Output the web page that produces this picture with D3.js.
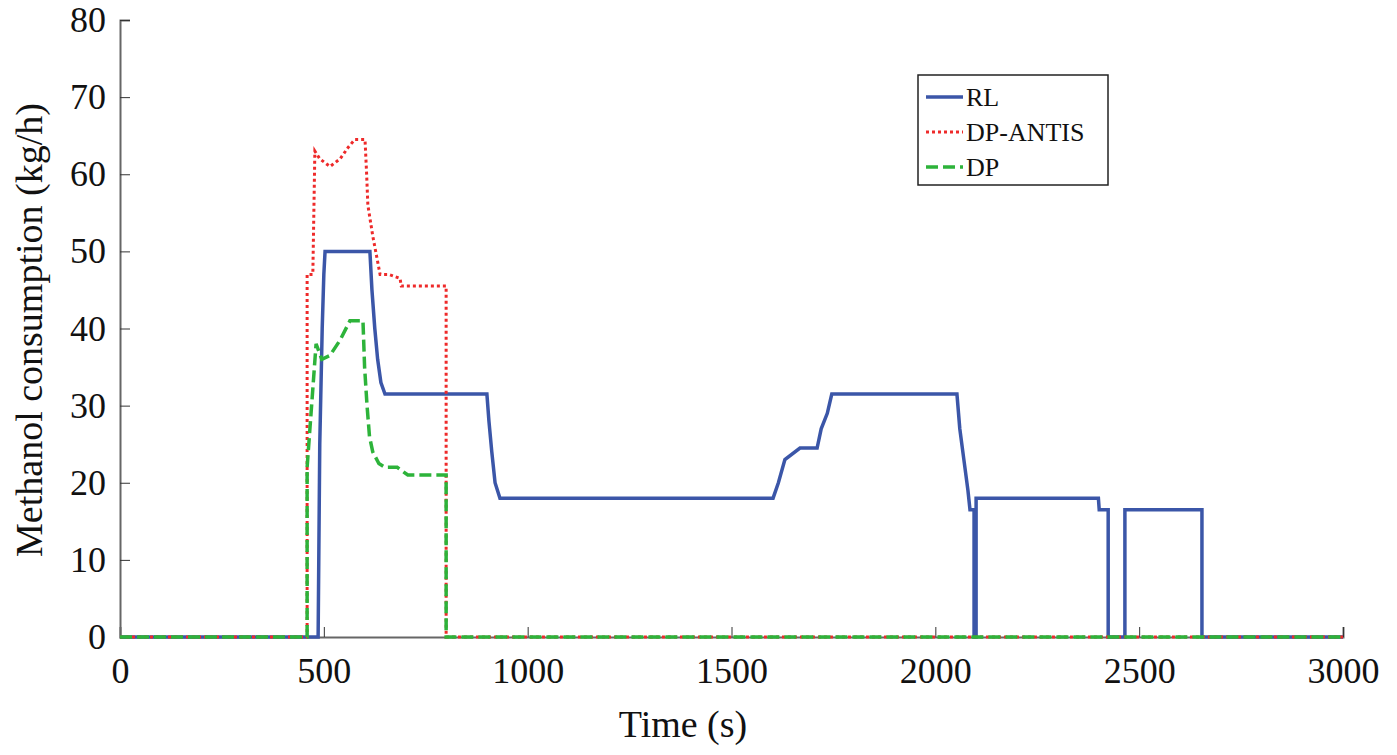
<!DOCTYPE html>
<html><head><meta charset="utf-8">
<script src="https://cdn.jsdelivr.net/npm/d3@7"></script>
<style>body{margin:0;background:#fff}svg,svg text{font-family:"Liberation Serif","DejaVu Serif",serif}</style>
</head><body><svg id="chart" width="1397" height="755"></svg>
<script>
var xTicks=[0,500,1000,1500,2000,2500,3000];
var yTicks=[0,10,20,30,40,50,60,70,80];
var seriesNames=['RL','DP-ANTIS','DP'];
var rlT=[0,486,490,496,500,503,613,618,625,632,640,650,900,905,912,920,932,1602,1615,1631,1668,1710,1720,1735,1746,2053,2060,2070,2080,2085,2095,2095,2100,2100,2400,2402,2424,2424,2465,2465,2654,2654,3000];
var rlV=[0,0,25,40,47,50,50,45,40,36,33,31.5,31.5,28,24,20,18,18,20,23,24.5,24.5,27,29,31.5,31.5,27,23,19,16.5,16.5,0,0,18,18,16.5,16.5,0,0,16.5,16.5,0,0];
var dpaT=[0,459,459,473,478,490,515,540,560,576,601,605,608,620,638,660,687,690,800,800,3000];
var dpaV=[0,0,47,47,63,62,61,62,63.5,64.5,64.5,60,56,52,47,47,46.5,45.5,45.5,0,0];
var dpT=[0,459,459,470,481,488,495,515,540,564,596,600,606,612,620,635,650,680,706,800,800,3000];
var dpV=[0,0,22,30,38,37,36,36.5,38.5,41,41,35,30,26,24,22.5,22,22,21,21,0,0];

var svg=d3.select('#chart');
var x=d3.scaleLinear().domain([0,3000]).range([120,1343]);
var y=d3.scaleLinear().domain([0,80]).range([637,20]);
var serif='"Liberation Serif","DejaVu Serif",serif';

svg.append('g').attr('transform','translate(0,637)')
  .call(d3.axisBottom(x).tickValues(xTicks).tickSize(-10).tickPadding(20).tickFormat(d3.format('d')))
  .call(g=>{g.attr('font-family',serif);g.select('.domain').attr('stroke','#666').attr('stroke-width',2);g.selectAll('line').attr('stroke','#333');g.selectAll('text').attr('font-size',36).attr('fill','#111')});
svg.append('g').attr('transform','translate(120,0)')
  .call(d3.axisLeft(y).tickValues(yTicks).tickSize(-10).tickPadding(14))
  .call(g=>{g.attr('font-family',serif);g.select('.domain').attr('stroke','#666').attr('stroke-width',2);g.selectAll('line').attr('stroke','#333');g.selectAll('text').attr('font-size',36).attr('fill','#111')});

var line=d3.line().x(d=>x(d[0])).y(d=>y(d[1]));
function pairs(t,v){return t.map((d,i)=>[d,v[i]]);}
svg.append('path').datum(pairs(rlT,rlV)).attr('d',line).attr('fill','none').attr('stroke','#3b56a8').attr('stroke-width',3.5);
svg.append('path').datum(pairs(dpaT,dpaV)).attr('d',line).attr('fill','none').attr('stroke','#ee2a2a').attr('stroke-width',3).attr('stroke-dasharray','3,3');
svg.append('path').datum(pairs(dpT,dpV)).attr('d',line).attr('fill','none').attr('stroke','#2db33a').attr('stroke-width',3.5).attr('stroke-dasharray','12,5');

svg.append('text').attr('x',683).attr('y',737).attr('text-anchor','middle').attr('font-size',38).attr('fill','#111').text('Time (s)');
svg.append('text').attr('transform','translate(42,330) rotate(-90)').attr('text-anchor','middle').attr('font-size',38).attr('fill','#111').text('Methanol consumption (kg/h)');

var lg=svg.append('g').attr('transform','translate(918,75)');
lg.append('rect').attr('width',190).attr('height',110).attr('fill','#fff').attr('stroke','#222').attr('stroke-width',1.5);
var styles=[['#3b56a8',3.5,null],['#ee2a2a',3,'3,3'],['#2db33a',3.5,'12,5']];
seriesNames.forEach(function(n,i){
  var yy=22+i*35;
  lg.append('line').attr('x1',8).attr('x2',45).attr('y1',yy).attr('y2',yy).attr('stroke',styles[i][0]).attr('stroke-width',styles[i][1]).attr('stroke-dasharray',styles[i][2]);
  lg.append('text').attr('x',48).attr('y',yy+9).attr('font-size',26).attr('fill','#111').text(n);
});
</script></body></html>
